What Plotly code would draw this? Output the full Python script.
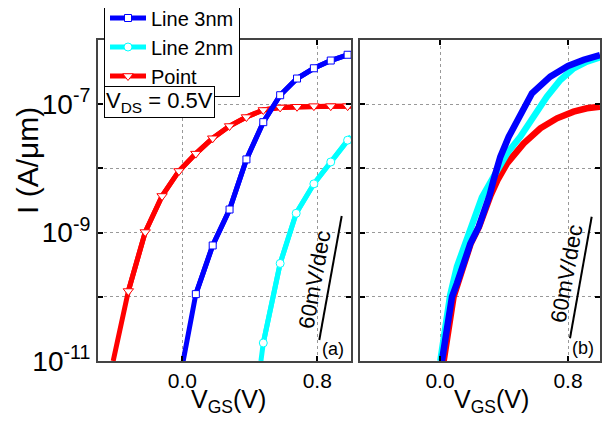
import plotly.graph_objects as go

# ---------------- Panel (a) data ----------------
vgs_a_blue = [0.005, 0.08, 0.18, 0.28, 0.38, 0.48, 0.58, 0.68, 0.78, 0.88, 0.98, 1.0]
id_a_blue = [1.0e-11, 1.10e-10, 6.3e-10, 2.29e-9, 1.38e-8, 5.25e-8, 1.38e-7, 2.51e-7,
             3.63e-7, 4.79e-7, 5.89e-7, 6.17e-7]
blue_marker_idx = list(range(1, 11))

vgs_a_cyan = [0.466, 0.48, 0.58, 0.675, 0.78, 0.88, 0.98, 1.0]
id_a_cyan = [1.0e-11, 1.91e-11, 3.31e-10, 2.0e-9, 5.75e-9, 1.26e-8, 2.75e-8, 3.16e-8]
cyan_marker_idx = list(range(1, 7))

vgs_a_red = [-0.41, -0.32, -0.22, -0.12, -0.02, 0.08, 0.18, 0.28, 0.38, 0.48, 0.58,
             0.68, 0.78, 0.88, 0.98, 1.0]
id_a_red = [1.0e-11, 1.23e-10, 1.02e-9, 3.72e-9, 9.12e-9, 1.70e-8, 2.95e-8, 4.57e-8,
            6.31e-8, 8.13e-8, 8.91e-8, 9.12e-8, 9.33e-8, 9.33e-8, 9.33e-8, 9.33e-8]
red_marker_idx = list(range(1, 15))

# ---------------- Panel (b) data ----------------
vgs_b_blue = [0.012, 0.044, 0.075, 0.106, 0.148, 0.19, 0.242, 0.283, 0.31, 0.335, 0.377,
              0.429, 0.481, 0.575, 0.689, 0.80, 0.898, 1.0]
id_b_blue = [1.0e-11, 3.89e-11, 1.0e-10, 1.62e-10, 3.31e-10, 6.76e-10, 1.23e-9, 2.24e-9,
             3.80e-9, 6.61e-9, 1.51e-8, 3.09e-8, 5.62e-8, 1.48e-7, 2.69e-7, 3.94e-7,
             4.90e-7, 5.83e-7]

vgs_b_cyan = [0.002, 0.033, 0.064, 0.106, 0.158, 0.21, 0.262, 0.34, 0.419, 0.502, 0.585,
              0.668, 0.752, 0.835, 0.918, 1.0]
id_b_cyan = [1.0e-11, 3.89e-11, 1.07e-10, 2.95e-10, 6.76e-10, 1.78e-9, 3.55e-9, 7.76e-9,
             1.72e-8, 3.12e-8, 6.40e-8, 1.31e-7, 2.38e-7, 3.62e-7, 4.60e-7, 5.37e-7]

vgs_b_red = [0.023, 0.055, 0.085, 0.112, 0.152, 0.192, 0.244, 0.285, 0.316, 0.36, 0.419,
             0.523, 0.627, 0.731, 0.835, 0.918, 1.0]
id_b_red = [1.0e-11, 3.55e-11, 1.0e-10, 1.62e-10, 3.31e-10, 6.76e-10, 1.23e-9, 2.40e-9,
            3.80e-9, 6.61e-9, 1.20e-8, 2.45e-8, 4.21e-8, 6.03e-8, 7.66e-8, 8.63e-8, 9.16e-8]

# ---------------- Axis ticks ----------------
x_tickvals = [0.0, 0.8]
x_ticktext = ["0.0", "0.8"]
y_tickvals = [1e-11, 1e-10, 1e-9, 1e-8, 1e-7, 1e-6]
y_ticktext = ["10<sup>-11</sup>", "", "10<sup>-9</sup>", "", "10<sup>-7</sup>", ""]

series_names = ["Line 3nm", "Line 2nm", "Point"]

W, H = 616, 428
OFF = 8  # page body margin offset
FONT = "Arial, Liberation Sans, sans-serif"
BLUE, CYAN, RED = "#0000ff", "#00ffff", "#ff0000"


def px(x):
    return (x - OFF) / W


def py(y):
    return 1 - (y - OFF) / H


fig = go.Figure()


def pick(lst, idx):
    return [lst[i] for i in idx]


panel_a = [
    (vgs_a_red, id_a_red, red_marker_idx, RED, "triangle-down", 9, series_names[2], 3),
    (vgs_a_cyan, id_a_cyan, cyan_marker_idx, CYAN, "circle", 8, series_names[1], 2),
    (vgs_a_blue, id_a_blue, blue_marker_idx, BLUE, "square", 7, series_names[0], 1),
]
for xs, ys, idx, col, sym, ms, name, rank in panel_a:
    fig.add_trace(go.Scatter(x=xs, y=ys, mode="lines", line=dict(color=col, width=5),
                             showlegend=False, xaxis="x", yaxis="y", hoverinfo="skip"))
    fig.add_trace(go.Scatter(x=pick(xs, idx), y=pick(ys, idx), mode="lines+markers",
                             name=name, legendrank=rank,
                             line=dict(color=col, width=5),
                             marker=dict(symbol=sym, size=ms, color="white",
                                         line=dict(color=col, width=1)),
                             xaxis="x", yaxis="y"))

for xs, ys, col in [(vgs_b_red, id_b_red, RED), (vgs_b_cyan, id_b_cyan, CYAN),
                    (vgs_b_blue, id_b_blue, BLUE)]:
    fig.add_trace(go.Scatter(x=xs, y=ys, mode="lines", line=dict(color=col, width=6.5),
                             showlegend=False, xaxis="x2", yaxis="y2"))

axis_common = dict(showline=True, linecolor="#444", linewidth=2, mirror="ticks",
                   ticks="inside", ticklen=5, tickwidth=1.5, tickcolor="black",
                   showgrid=True, gridcolor="#999", gridwidth=1, griddash="dot",
                   zeroline=False, automargin=False)
xa = dict(range=[-0.5, 1.0], tickvals=x_tickvals, ticktext=x_ticktext,
          tickfont=dict(family=FONT, size=21, color="black"),
          **axis_common)
ya = dict(type="log", range=[-11, -6], tickvals=y_tickvals, ticktext=y_ticktext,
          tickfont=dict(family=FONT, size=28, color="black"),
          domain=[py(361), py(40)], **axis_common)

fig.update_layout(
    width=W, height=H, margin=dict(l=0, r=0, t=0, b=0, autoexpand=False),
    paper_bgcolor="white", plot_bgcolor="white",
    font=dict(family=FONT, color="black"),
    xaxis=dict(domain=[px(98), px(351)], anchor="y", **xa),
    yaxis=dict(anchor="x", **ya),
    xaxis2=dict(domain=[px(360), px(600)], anchor="y2", **xa),
    yaxis2=dict(anchor="x2", showticklabels=False,
                **{k: v for k, v in ya.items() if k not in ("ticktext", "tickfont")}),
    legend=dict(x=px(104), y=py(-2.5), xanchor="left", yanchor="top",
                bgcolor="white", bordercolor="black", borderwidth=1,
                font=dict(family=FONT, size=20, color="black"),
                tracegroupgap=0, itemwidth=36),
    showlegend=True,
)

C = dict(xref="paper", yref="paper", showarrow=False, xanchor="center", yanchor="middle")
ann = []
ann.append(dict(text="V<sub>DS</sub> = 0.5V", x=px(104), y=py(86), xref="paper", yref="paper",
                xanchor="left", yanchor="top", showarrow=False, bgcolor="white",
                bordercolor="black", borderwidth=1, borderpad=1,
                font=dict(family=FONT, size=22, color="black")))
ann.append(dict(text="I (A/\u03bcm)", x=px(28), y=py(161), textangle=-90,
                font=dict(family=FONT, size=30, color="black"), **C))
for cx in (228, 491):
    ann.append(dict(text="V<sub>GS</sub>(V)", x=px(cx), y=py(401),
                    font=dict(family=FONT, size=25, color="black"), **C))
for cx, cy in ((314, 280), (566, 274)):
    ann.append(dict(text="60mV/dec", x=px(cx), y=py(cy), textangle=-80,
                    font=dict(family=FONT, size=22, color="black"), **C))
for lab, cx, cy in (("(a)", 333, 349), ("(b)", 583, 348)):
    ann.append(dict(text=lab, x=px(cx), y=py(cy),
                    font=dict(family=FONT, size=18, color="black"), **C))
fig.update_layout(annotations=ann)

shapes = []
for (x0, y0, x1, y1) in ((319.3, 340, 341.7, 216), (570, 338.3, 591.7, 216.7)):
    shapes.append(dict(type="line", xref="paper", yref="paper", x0=px(x0), y0=py(y0),
                       x1=px(x1), y1=py(y1), line=dict(color="black", width=2)))
fig.update_layout(shapes=shapes)

fig.write_html("out.html")
